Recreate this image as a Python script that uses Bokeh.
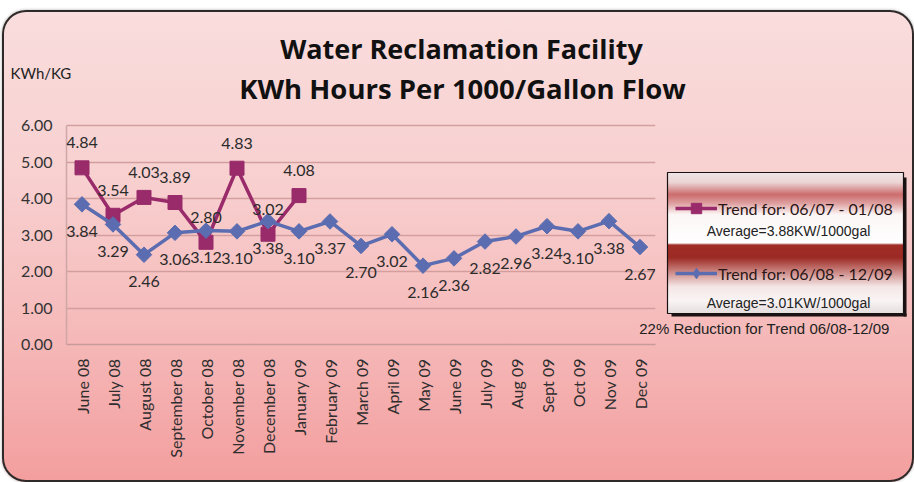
import numpy as np
from bokeh.plotting import figure
from bokeh.layouts import row
from bokeh.models import (ColumnDataSource, Range1d, FactorRange, LabelSet, Label, BoxAnnotation,
                          Legend, LegendItem, FixedTicker, PrintfTickFormatter)
from bokeh.core.properties import value
from bokeh.embed import file_html
from bokeh.resources import INLINE

# ---------------- data ----------------
months = ["June 08", "July 08", "August 08", "September 08", "October 08", "November 08",
          "December 08", "January 09", "February 09", "March 09", "April 09", "May 09",
          "June 09", "July 09", "Aug 09", "Sept 09", "Oct 09", "Nov 09", "Dec 09"]
trend_0607_0108 = [4.84, 3.54, 4.03, 3.89, 2.80, 4.83, 3.02, 4.08]
trend_0608_1209 = [3.84, 3.29, 2.46, 3.06, 3.12, 3.10, 3.38, 3.10, 3.37, 2.70, 3.02,
                   2.16, 2.36, 2.82, 2.96, 3.24, 3.10, 3.38, 2.67]
series_names = ["Trend for: 06/07 - 01/08", "Trend for: 06/08 - 12/09"]
averages = ["Average=3.88KW/1000gal", "Average=3.01KW/1000gal"]
note_text = "22% Reduction for Trend 06/08-12/09"
title_lines = ["Water Reclamation Facility", "KWh Hours Per 1000/Gallon Flow"]
y_unit = "KWh/KG"
y_ticks = [0, 1, 2, 3, 4, 5, 6]

MAG = "#992b6b"
BLUE = "#5b6db0"
FONT = "Lato"
W, H = 912, 472          # both layers
OX, OY = 2, 10           # page offset of the chart card
# plot-area edges on the page
PL, PR, PT, PB = 66, 655, 125, 344
FRAME_TOP = OY           # chart frame reaches up to the card top (axis bounded to 0..6)

# ---------------- background layer (titles, legend, notes) ----------------
bg = figure(width=W, height=H, x_range=Range1d(0, 1), y_range=Range1d(0, 1),
            x_axis_type=None, y_axis_type=None, output_backend="svg", toolbar_location=None,
            min_border=0, background_fill_color=None, border_fill_color=None,
            outline_line_color=None)
bg.styles = {
    "background": "linear-gradient(180deg, #fadddd 0%, #f8d0d0 35%, #f6bcbc 65%, #f39e9e 100%)",
    "border-radius": "24px",
    "box-shadow": "inset 0 0 0 2px #2e2a2a, 0 0 3px rgba(0,0,0,0.35)",
}

def bx(px): return px - OX            # page x -> bg screen x
def by(py): return PB - py            # page y -> bg screen y (frame aligned with chart frame)

def add_text(fig, x, y, text, size, font=FONT, style="normal", align="center", color="#1e1e1e"):
    fig.add_layout(Label(x=x, y=y, x_units="screen", y_units="screen", text=text,
                         text_align=align, text_baseline="middle", text_font=font,
                         text_font_style=style, text_font_size=size, text_color=color))

add_text(bg, bx(461), by(48), title_lines[0], "27px", font="Open Sans", style="bold", color="#111111")
add_text(bg, bx(462), by(88), title_lines[1], "27.5px", font="Open Sans", style="bold", color="#111111")
add_text(bg, bx(10), by(72), y_unit, "15px", align="left", color="#222222")

# legend box: shadow strips, gradient bands (overlapping, no seams), border
L, R, T, B = 667, 903, 172, 313
def box(l, r, t, b, **kw):
    bg.add_layout(BoxAnnotation(left=bx(l), right=bx(r), top=by(t), bottom=by(b),
                                left_units="screen", right_units="screen", top_units="screen",
                                bottom_units="screen", **kw))
box(R, R + 3, T + 5, B + 3, fill_color="#1a1212", fill_alpha=1, line_color=None)
box(L + 4, R + 3, B, B + 3, fill_color="#1a1212", fill_alpha=1, line_color=None)
stops = [(172, (240, 230, 230)), (182, (236, 212, 212)), (194, (204, 108, 108)),
         (203, (222, 160, 160)), (214, (252, 246, 246)), (243, (255, 255, 255)),
         (244, (160, 46, 38)), (257, (156, 42, 36)), (272, (206, 140, 136)),
         (286, (244, 230, 230)), (300, (250, 244, 244)), (313, (226, 220, 220))]
stop_y = [s[0] for s in stops]
for yy in range(T, B):
    c = [int(round(np.interp(yy + 0.5, stop_y, [s[1][k] for s in stops]))) for k in range(3)]
    box(L, R, yy, min(yy + 2, B), fill_color="#%02x%02x%02x" % tuple(c), fill_alpha=1,
        line_color=None)
box(L, R, T, B, fill_alpha=0, line_color="#1a1212", line_width=1.2, line_alpha=1)

# legend glyph samples: off-canvas copies of each series start (bg y range is 0..1)
g1l = bg.line(x=[0, 1], y=[trend_0607_0108[0]] * 2, line_color=MAG, line_width=3.5)
g1m = bg.scatter(x=[0], y=[trend_0607_0108[0]], marker="square", size=14,
                 fill_color=MAG, line_color=MAG)
g2l = bg.line(x=[0, 1], y=[trend_0608_1209[0]] * 2, line_color=BLUE, line_width=3.5)
g2m = bg.scatter(x=[0], y=[trend_0608_1209[0]], marker="diamond", size=16,
                 fill_color=BLUE, line_color=BLUE)
for name, rends, cy in [(series_names[0], [g1l, g1m], 208), (series_names[1], [g2l, g2m], 273)]:
    bg.add_layout(Legend(items=[LegendItem(label=name, renderers=rends)],
                         location=(bx(675), by(cy) - 13), background_fill_alpha=0,
                         border_line_color=None, padding=0, margin=0, spacing=0,
                         glyph_width=42, glyph_height=26, label_height=26, label_standoff=1,
                         label_text_font=FONT, label_text_font_size="16px",
                         label_text_color="#2a1616"))

add_text(bg, bx(788), by(230), averages[0], "14px", font="Liberation Sans", color="#222222")
add_text(bg, bx(788), by(302), averages[1], "14px", font="Liberation Sans", color="#222222")
add_text(bg, bx(764), by(328), note_text, "15px", font="Liberation Sans", color="#222222")

# ---------------- chart layer ----------------
y_top = y_ticks[-1] * (PB - FRAME_TOP) / (PB - PT)   # range end so that 6.00 sits at PT
p = figure(width=W, height=H, x_range=FactorRange(*months), y_range=Range1d(0, y_top),
           output_backend="svg", toolbar_location=None,
           min_border_left=PL - OX, min_border_right=W - (PR - OX),
           min_border_top=FRAME_TOP - OY, min_border_bottom=H - (PB - OY),
           background_fill_color=None, border_fill_color=None, outline_line_color=None,
           margin=(0, 0, 0, -W))

p.yaxis.ticker = FixedTicker(ticks=y_ticks)
p.yaxis.bounds = (y_ticks[0], y_ticks[-1])
p.yaxis.formatter = PrintfTickFormatter(format="%.2f")
p.yaxis.major_tick_line_color = None
p.yaxis.major_tick_out = 0
p.yaxis.minor_tick_line_color = None
p.yaxis.minor_tick_out = 0
p.yaxis.axis_line_color = "#cfa7a7"
p.yaxis.axis_line_width = 1.5
p.yaxis.major_label_standoff = 14
p.yaxis.major_label_text_font = FONT
p.yaxis.major_label_text_font_size = "16px"
p.yaxis.major_label_text_color = "#333333"

p.xaxis.major_label_orientation = np.pi / 2
p.xaxis.major_tick_line_color = None
p.xaxis.major_tick_out = 0
p.xaxis.minor_tick_line_color = None
p.xaxis.minor_tick_out = 0
p.xaxis.axis_line_color = "#c99a9a"
p.xaxis.axis_line_width = 1.5
p.xaxis.major_label_standoff = 14
p.xaxis.major_label_text_font = FONT
p.xaxis.major_label_text_font_size = "16px"
p.xaxis.major_label_text_color = "#2e2e2e"

p.xgrid.grid_line_color = None
p.ygrid.grid_line_color = "#d29e9e"
p.ygrid.grid_line_width = 1.5

src1 = ColumnDataSource(dict(x=months[:len(trend_0607_0108)], y=trend_0607_0108,
                             lbl=[f"{v:.2f}" for v in trend_0607_0108]))
src2 = ColumnDataSource(dict(x=months[:len(trend_0608_1209)], y=trend_0608_1209,
                             lbl=[f"{v:.2f}" for v in trend_0608_1209]))

p.line("x", "y", source=src1, line_color=MAG, line_width=3.5)
p.scatter("x", "y", source=src1, marker="square", size=14, fill_color=MAG, line_color=MAG)
p.line("x", "y", source=src2, line_color=BLUE, line_width=3.5)
p.scatter("x", "y", source=src2, marker="square", angle=np.pi / 4, size=11,
          fill_color=BLUE, line_color=BLUE)

p.add_layout(LabelSet(x="x", y="y", text="lbl", source=src1, y_offset=25,
                      text_align="center", text_baseline="middle",
                      text_font=value(FONT), text_font_size=value("16px"), text_color="#2b2b2b"))
p.add_layout(LabelSet(x="x", y="y", text="lbl", source=src2, y_offset=-27,
                      text_align="center", text_baseline="middle",
                      text_font=value(FONT), text_font_size=value("16px"), text_color="#2b2b2b"))

page = row(bg, p, margin=(OY, 0, 0, OX), spacing=0)
open("out.html", "w").write(file_html(page, INLINE))
